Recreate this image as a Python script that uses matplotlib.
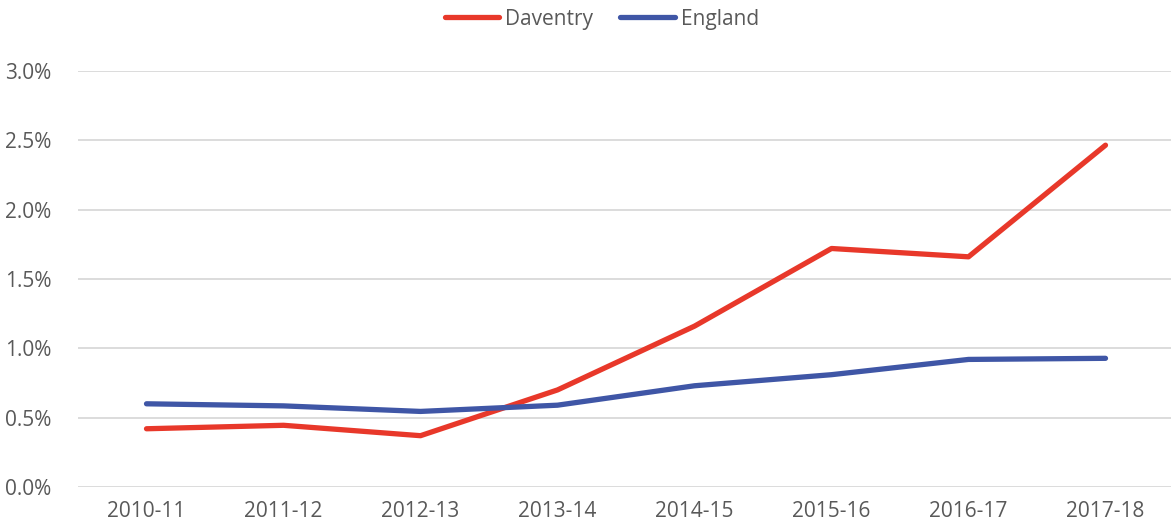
import matplotlib
matplotlib.use("Agg")
import matplotlib.pyplot as plt
from matplotlib.ticker import FuncFormatter

years = ["2010-11", "2011-12", "2012-13", "2013-14", "2014-15", "2015-16", "2016-17", "2017-18"]
daventry = [0.42, 0.445, 0.37, 0.70, 1.16, 1.72, 1.66, 2.465]
england = [0.60, 0.585, 0.545, 0.59, 0.73, 0.81, 0.92, 0.928]
yticks = [0.0, 0.5, 1.0, 1.5, 2.0, 2.5, 3.0]

plt.rcParams['font.family'] = ['Open Sans', 'DejaVu Sans']
text_color = "#595959"

fig = plt.figure(figsize=(11.71, 5.32), dpi=100)
ax = fig.add_axes([78/1171, 1 - 487/532, (1174-78)/1171, (487-71)/532])

x = list(range(len(years)))
ax.plot(x, daventry, color="#E8382A", lw=3.8, solid_capstyle="round", solid_joinstyle="round", label="Daventry", zorder=3)
ax.plot(x, england, color="#3F56A6", lw=3.8, solid_capstyle="round", solid_joinstyle="round", label="England", zorder=3)

ax.set_xlim(-0.5, len(years) - 0.5)
ax.set_ylim(0, 3.0)
ax.set_yticks(yticks)
ax.yaxis.set_major_formatter(FuncFormatter(lambda v, p: f"{v:.1f}%"))
ax.set_xticks(x)
ax.set_xticklabels(years)
ax.grid(axis="y", color="#D9D9D9", lw=1.3)
ax.set_axisbelow(True)
for s in ax.spines.values():
    s.set_visible(False)
ax.tick_params(axis="both", length=0, labelsize=15, colors=text_color)
ax.tick_params(axis="x", pad=10)
ax.tick_params(axis="y", pad=19)
for lbl in ax.get_yticklabels():
    lbl.set_horizontalalignment("right")

leg = fig.legend(loc="center", bbox_to_anchor=(602/1171, 1 - 19/532), ncol=2, frameon=False,
                 fontsize=15, handlelength=2.6, columnspacing=1.3, handletextpad=0.3)
for t in leg.get_texts():
    t.set_color(text_color)

fig.savefig("out.png", dpi=100)
